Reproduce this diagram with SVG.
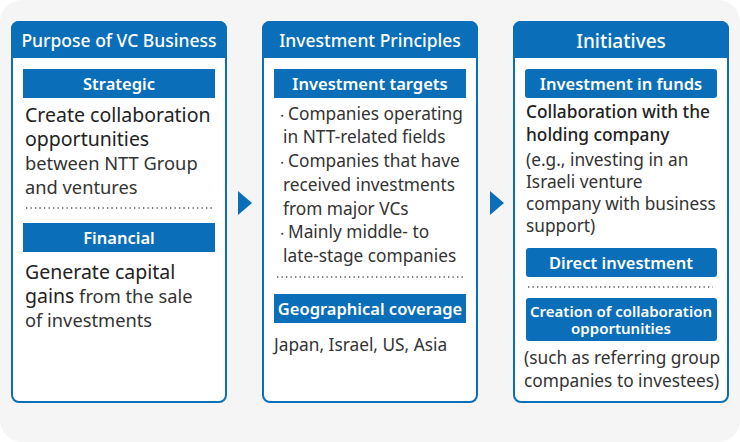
<svg xmlns="http://www.w3.org/2000/svg" width="740" height="442" viewBox="0 0 740 442">
<style>
text{font-family:"Noto Sans","Open Sans",sans-serif;}
.box{fill:#fff;stroke:#0a6fb8;stroke-width:2}
.hd{fill:#0a6fb8}
.ht{fill:#fff;font-size:17.5px;font-weight:500;text-anchor:middle}
.st{fill:#fff;font-size:16.5px;font-weight:600;text-anchor:middle}
.b{fill:#333;font-size:17.3px}
.b1{fill:#333;font-size:18.3px}
.big{fill:#222;font-size:19.5px}
.dot{stroke:#555;stroke-width:1.3;stroke-dasharray:1.3 3.2}
.ar{fill:#0a6fb8}
</style>
<rect x="0" y="0" width="740" height="442" rx="22" fill="#f5f5f5"/>
<g id="col1">
<rect class="box" x="12" y="22" width="214" height="380" rx="7"/>
<path class="hd" d="M11,29a8,8 0 0 1 8,-8h200a8,8 0 0 1 8,8v29h-216z"/>
<text class="ht" x="119" y="47">Purpose of VC Business</text>
<rect class="hd" x="23" y="69" width="192" height="29"/>
<text class="st" x="119" y="90">Strategic</text>
<text class="big" x="25" y="122">Create collaboration</text>
<text class="big" x="25" y="146">opportunities</text>
<text class="b1" x="25" y="170">between NTT Group</text>
<text class="b1" x="25" y="194">and ventures</text>
<line class="dot" x1="26" y1="208" x2="212" y2="208"/>
<rect class="hd" x="23" y="223" width="192" height="29"/>
<text class="st" x="119" y="244">Financial</text>
<text class="big" x="25" y="279">Generate capital</text>
<text x="25" y="303"><tspan class="big">gains</tspan><tspan class="b1"> from the sale</tspan></text>
<text class="b1" x="25" y="327">of investments</text>
</g>
<g id="col2">
<rect class="box" x="263" y="22" width="214" height="380" rx="7"/>
<path class="hd" d="M262,29a8,8 0 0 1 8,-8h200a8,8 0 0 1 8,8v29h-216z"/>
<text class="ht" x="370" y="47">Investment Principles</text>
<rect class="hd" x="274" y="69" width="192" height="29"/>
<text class="st" x="370" y="90">Investment targets</text>
<text class="b" x="276" y="120"><tspan font-size="12">・</tspan>Companies operating</text>
<text class="b" x="283" y="143">in NTT-related fields</text>
<text class="b" x="276" y="167"><tspan font-size="12">・</tspan>Companies that have</text>
<text class="b" x="283" y="191">received investments</text>
<text class="b" x="283" y="215">from major VCs</text>
<text class="b" x="276" y="238"><tspan font-size="12">・</tspan>Mainly middle- to</text>
<text class="b" x="283" y="262">late-stage companies</text>
<line class="dot" x1="277" y1="277" x2="463" y2="277"/>
<rect class="hd" x="274" y="294" width="192" height="29"/>
<text class="st" x="370" y="315">Geographical coverage</text>
<text class="b" x="274" y="351">Japan, Israel, US, Asia</text>
</g>
<g id="col3">
<rect class="box" x="514" y="22" width="214" height="380" rx="7"/>
<path class="hd" d="M513,29a8,8 0 0 1 8,-8h200a8,8 0 0 1 8,8v29h-216z"/>
<text class="ht" x="621" y="48" style="font-size:19px">Initiatives</text>
<rect class="hd" x="525" y="69" width="192" height="29" rx="3"/>
<text class="st" x="621" y="90">Investment in funds</text>
<text class="b" x="526" y="118" style="font-weight:500;fill:#222">Collaboration with the</text>
<text class="b" x="526" y="141" style="font-weight:500;fill:#222">holding company</text>
<text class="b" x="526" y="166">(e.g., investing in an</text>
<text class="b" x="526" y="188">Israeli venture</text>
<text class="b" x="526" y="210">company with business</text>
<text class="b" x="526" y="232">support)</text>
<rect class="hd" x="526" y="248" width="191" height="29" rx="3"/>
<text class="st" x="621" y="269">Direct investment</text>
<line class="dot" x1="528" y1="287" x2="713" y2="287"/>
<rect class="hd" x="526" y="298" width="191" height="43" rx="3"/>
<text class="st" x="621" y="317" style="font-size:15px">Creation of collaboration</text>
<text class="st" x="621" y="334" style="font-size:15px">opportunities</text>
<text class="b" x="524" y="364">(such as referring group</text>
<text class="b" x="524" y="387">companies to investees)</text>
</g>
<g id="connectors">
<polygon class="ar" points="238,191 252,203 238,215"/>
<polygon class="ar" points="490,191 504,203 490,215"/>
</g>
</svg>
